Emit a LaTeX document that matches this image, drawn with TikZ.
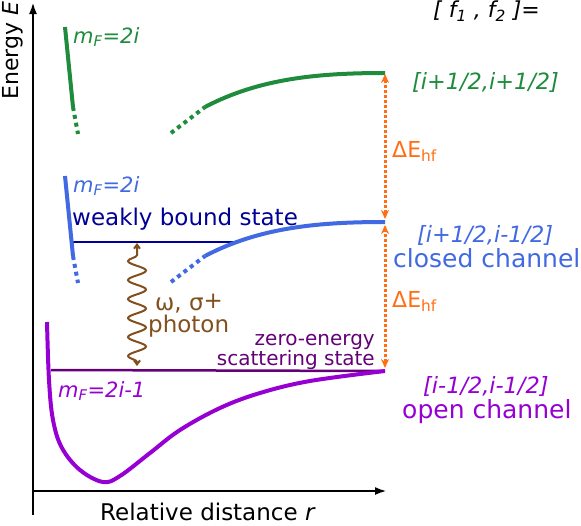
\documentclass[tikz,border=0pt]{standalone}
\usepackage{fontspec}
\setmainfont{DejaVu Sans}
\usetikzlibrary{arrows.meta,decorations.pathmorphing}
\definecolor{upcolor}{RGB}{30,140,60}
\definecolor{closedcolor}{RGB}{65,105,225}
\definecolor{boundcolor}{RGB}{0,0,150}
\definecolor{opencolor}{RGB}{150,0,210}
\definecolor{scattercolor}{RGB}{100,0,120}
\definecolor{hfcolor}{RGB}{255,110,20}
\definecolor{photoncolor}{RGB}{130,80,30}

\begin{document}
\begin{tikzpicture}[x=1pt,y=-1pt,
    lbl/.style={anchor=base west, inner sep=0pt},
    lblr/.style={anchor=base east, inner sep=0pt},
    potential/.style={line width=4pt},
    dots/.style={dash pattern=on 4pt off 4pt},
    level/.style={line width=2.5pt},
    axis/.style={line width=2.5pt, -{Latex[length=12pt,width=8pt]}},
    hfarrow/.style={hfcolor, line width=3pt, dash pattern=on 3pt off 2pt,
        {Stealth[length=9pt,width=8pt]}-{Stealth[length=9pt,width=8pt]}}]
    \useasboundingbox (0,0) rectangle (581,525);

    % axes
    \coordinate (origin) at (33,491);
    \coordinate (ybottom) at (33,515);
    \coordinate (etip) at (33,2);
    \coordinate (rtip) at (387,491);
    \draw[axis] (ybottom) -- (etip);
    \draw[axis] (origin) -- (rtip);
    \node[lbl, rotate=90, font=\fontsize{22}{26}\selectfont] (elabel) at (19,100) {Energy \textit{E}};
    \node[lbl, font=\fontsize{23}{27}\selectfont] (rlabel) at (100,520) {Relative distance \textit{r}};

    % weakly bound state (under the closed channel)
    \coordinate (bound-l) at (73,242);
    \coordinate (bound-r) at (238,242);
    \draw[boundcolor, level] (bound-l) -- (bound-r);
    \node[lbl, text=boundcolor, font=\fontsize{23}{27}\selectfont] (boundlabel) at (72,225) {weakly bound state};

    % upper and closed channels
    \foreach \ch/\col/\dy in {up/upcolor/0, closed/closedcolor/149}
    {
        \draw[\col, potential] (65,27+\dy) -- (73,107+\dy);
        \draw[\col, potential, dots] (73,107+\dy) -- (78,134+\dy);
        \draw[\col, potential, dots] (171,133+\dy) -- (205,107+\dy);
        \draw[\col, potential] (205,107+\dy) .. controls (260,78+\dy) and (320,73+\dy) .. (385,73+\dy);
        \coordinate (end-\ch) at (385,73+\dy);
        \node[lbl, text=\col, font=\fontsize{21}{25}\selectfont] (mf-\ch) at (73,43+\dy) {\textit{m\textsubscript{F}=2i}};
    }

    % open channel
    \coordinate (end-open) at (385,371);
    \draw[scattercolor, level] (51,370) -- (end-open);
    \draw[opencolor, potential] plot[smooth, tension=0.6] coordinates {(47,322) (49,380) (53,420) (62,448) (80,470) (103,482) (120,476) (150,453) (180,430) (220,408) (260,393) (310,381) (385,371)};
    \node[lbl, text=opencolor, font=\fontsize{21}{25}\selectfont] (mf-open) at (58,397) {\textit{m\textsubscript{F}=2i-1}};
    \node[lblr, text=scattercolor, font=\fontsize{20}{24}\selectfont] (zerolabel) at (375,345) {zero-energy};
    \node[lblr, text=scattercolor, font=\fontsize{20}{24}\selectfont] (scatlabel) at (375,365) {scattering state};

    % photon
    \coordinate (ph-top) at (137,243);
    \coordinate (ph-bot) at (137,366);
    \draw[photoncolor, line width=2pt, {Straight Barb[length=4pt,width=6pt]}-{Straight Barb[length=4pt,width=6pt]},
        decorate, decoration={snake, amplitude=9pt, segment length=19pt, pre length=4pt, post length=4pt}] (ph-bot) -- (ph-top);
    \node[lbl, text=photoncolor, font=\fontsize{23}{27}\selectfont] (omega) at (155,310) {ω, σ\raisebox{2pt}{+}};
    \node[lbl, text=photoncolor, font=\fontsize{23}{27}\selectfont] (photon) at (148,332) {photon};

    % hyperfine splittings
    \draw[hfarrow, shorten <=3pt, shorten >=1pt] (end-closed) -- (end-up);
    \draw[hfarrow, shorten <=3pt, shorten >=3pt] (end-open) -- (end-closed);
    \node[lbl, text=hfcolor, font=\fontsize{22}{26}\selectfont] (hf-up) at (392,157) {ΔE\textsubscript{hf}};
    \node[lbl, text=hfcolor, font=\fontsize{22}{26}\selectfont] (hf-low) at (392,307) {ΔE\textsubscript{hf}};

    % channel labels
    \node[lbl, font=\fontsize{22}{26}\selectfont] (f-head) at (433,17) {\textit{[ f\textsubscript{1} , f\textsubscript{2} ]=}};
    \node[lbl, text=upcolor, font=\fontsize{22.4}{27}\selectfont] (f-up) at (412,89) {\textit{[i+1/2,i+1/2]}};
    \node[lbl, text=closedcolor, font=\fontsize{22.4}{27}\selectfont] (f-closed) at (417,242) {\textit{[i+1/2,i-1/2]}};
    \node[lbl, text=closedcolor, font=\fontsize{25}{30}\selectfont] (closedlabel) at (393,267) {closed channel};
    \node[lbl, text=opencolor, font=\fontsize{22.4}{27}\selectfont] (f-open) at (423,393) {\textit{[i-1/2,i-1/2]}};
    \node[lbl, text=opencolor, font=\fontsize{25}{30}\selectfont] (openlabel) at (402,418) {open channel};
\end{tikzpicture}
\end{document}
